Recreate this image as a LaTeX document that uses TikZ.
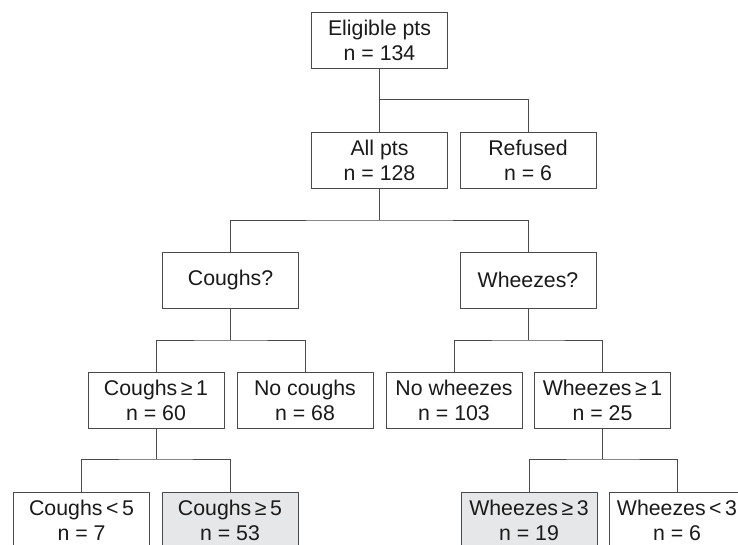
\documentclass[tikz,border=0pt]{standalone}
\usepackage{fontspec}
\setmainfont{Liberation Sans}
\definecolor{linec}{HTML}{4A4A4A}
\definecolor{textc}{HTML}{1A1A1A}
\definecolor{shade}{HTML}{E6E7E8}
\begin{document}
\begin{tikzpicture}[x=1pt,y=1pt,
  box/.style={draw=linec, line width=0.9pt, fill=white, minimum width=136pt, minimum height=56pt,
    inner sep=0pt, align=center, text=textc, font=\fontsize{21.3}{25}\selectfont},
  hibox/.style={box, fill=shade},
  conn/.style={draw=linec, line width=0.9pt}]
\clip (0,0) rectangle (738,-545);
\fill[white] (0,0) rectangle (738,-545);
% nodes
\node[box] (elig) at (379.5,-40) {Eligible pts\\n = 134};
\node[box] (all) at (379.5,-160) {All pts\\n = 128};
\node[box] (ref) at (528,-160) {Refused\\n = 6};
\node[box] (cq) at (230.5,-280) {Coughs?};
\node[box] (wq) at (528,-280) {Wheezes?};
\node[box] (c1) at (156,-400) {Coughs\,≥\,1\\n = 60};
\node[box] (nc) at (305,-400) {No coughs\\n = 68};
\node[box] (nw) at (454,-400) {No wheezes\\n = 103};
\node[box] (w1) at (602.5,-400) {Wheezes\,≥\,1\\n = 25};
\node[box] (c5l) at (81.5,-520) {Coughs\,<\,5\\n = 7};
\node[hibox] (c5g) at (230,-520) {Coughs\,≥\,5\\n = 53};
\node[hibox] (w3g) at (529,-520) {Wheezes\,≥\,3\\n = 19};
\node[box] (w3l) at (677,-520) {Wheezes\,<\,3\\n = 6};
% junctions
\coordinate (j1) at (379.5,-99);
\coordinate (j2) at (379.5,-220);
\coordinate (j3) at (230.5,-340);
\coordinate (j4) at (528,-340);
\coordinate (j5) at (156,-459);
\coordinate (j6) at (602.5,-459);
% connectors
\draw[conn] (elig.south) -- (all.north);
\draw[conn] (j1) -| (ref.north);
\draw[conn] (all.south) -- (j2);
\draw[conn] (cq.north) |- (j2) -| (wq.north);
\draw[conn] (cq.south) -- (j3);
\draw[conn] (c1.north) |- (j3) -| (nc.north);
\draw[conn] (wq.south) -- (j4);
\draw[conn] (nw.north) |- (j4) -| (w1.north);
\draw[conn] (c1.south) -- (j5);
\draw[conn] (c5l.north) |- (j5) -| (c5g.north);
\draw[conn] (w1.south) -- (j6);
\draw[conn] (w3g.north) |- (j6) -| (w3l.north);
\end{tikzpicture}
\end{document}
